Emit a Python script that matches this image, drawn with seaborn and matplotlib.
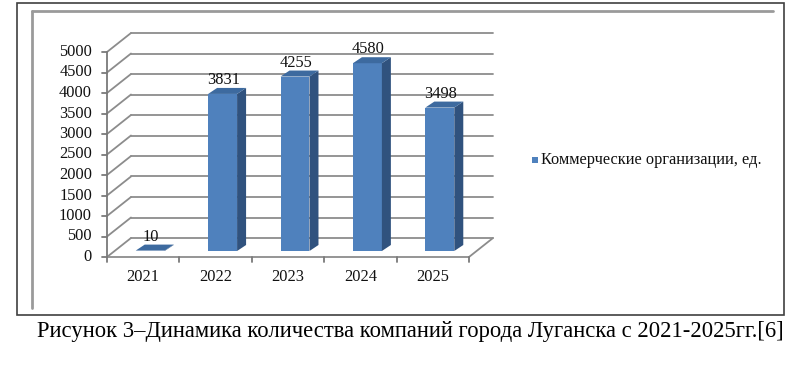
import matplotlib
matplotlib.use("Agg")
import matplotlib.pyplot as plt
from matplotlib.patches import Polygon, Rectangle
from matplotlib.lines import Line2D
import seaborn as sns
import pandas as pd

# ---- data ----
years = ["2021", "2022", "2023", "2024", "2025"]
values = [10, 3831, 4255, 4580, 3498]
series_name = "Коммерческие организации, ед."
yticks = [0, 500, 1000, 1500, 2000, 2500, 3000, 3500, 4000, 4500, 5000]
caption = "Рисунок 3–Динамика количества компаний города Луганска с 2021-2025гг.[6]"

sns.set_theme(style="white")
plt.rcParams["font.family"] = ["Liberation Serif", "DejaVu Serif"]

FRONT = "#4F81BD"
SIDE = "#30527E"
TOP = "#3D6A9F"
GRID = "#8C8C8C"
FS = 11.8

W, H = 800, 386
fig = plt.figure(figsize=(W / 100, H / 100), dpi=100)

# axes = plane of the bar front faces (pixels measured from top-left)
left_px, right_px = 114, 476
zero_px, top_px = 251, 46
ax = fig.add_axes([left_px / W, (H - zero_px) / H, (right_px - left_px) / W, (zero_px - top_px) / H])

df = pd.DataFrame({"year": years, "value": values})
sns.barplot(data=df, x="year", y="value", color=FRONT, width=0.4, saturation=1,
            ax=ax, zorder=3, edgecolor="none")
ax.set_xlim(-0.5, 4.5)
ax.set_ylim(0, 5000)
ax.axis("off")

to_fig = fig.transFigure.inverted()

# offsets in display pixels (y up)
FRONT_OFF = (-7, -6)
BACK_OFF = (17, 13)
DEPTH = (9, 6)


def pt(x, y, off=(0, 0)):
    d = ax.transData.transform((x, y))
    return to_fig.transform((d[0] + off[0], d[1] + off[1]))


def line(p1, p2, color=GRID, lw=1.3, z=1):
    ax.add_line(Line2D([p1[0], p2[0]], [p1[1], p2[1]], transform=fig.transFigure,
                       color=color, lw=lw, zorder=z, clip_on=False))


# outer and inner frames
fig.add_artist(Rectangle((17 / W, (H - 315) / H), (784 - 17) / W, (315 - 3) / H,
                         transform=fig.transFigure, fill=False, ec="#404040", lw=1.2))
fig.add_artist(Line2D([32 / W, 773 / W], [(H - 11) / H] * 2, transform=fig.transFigure,
                      color="#9a9a9a", lw=2.0))
fig.add_artist(Line2D([32 / W] * 2, [(H - 11) / H, (H - 308) / H], transform=fig.transFigure,
                      color="#9a9a9a", lw=2.0))

# walls: back gridlines and left-wall diagonals
x0, x1 = -0.5, 4.5
for v in yticks:
    line(pt(x0, v, BACK_OFF), pt(x1, v, BACK_OFF))
    line(pt(x0, v, FRONT_OFF), pt(x0, v, BACK_OFF))
# floor
line(pt(x0, 0, FRONT_OFF), pt(x1, 0, FRONT_OFF), z=2)
line(pt(x1, 0, FRONT_OFF), pt(x1, 0, BACK_OFF), z=2)

# y axis on the front plane
line(pt(x0, 0, FRONT_OFF), pt(x0, 5000, FRONT_OFF), color="#7a7a7a", lw=1.3, z=2)
for v in yticks:
    a = pt(x0, v, FRONT_OFF)
    b = pt(x0, v, (FRONT_OFF[0] - 5, FRONT_OFF[1]))
    line(a, b, color="#7a7a7a", lw=1.3, z=2)
    c = pt(x0, v, (FRONT_OFF[0] - 15, FRONT_OFF[1]))
    fig.text(c[0], c[1], str(v), ha="right", va="center", fontsize=FS, color="#111111")

# x ticks and labels on the front plane
for i in range(len(years) + 1):
    a = pt(i - 0.5, 0, FRONT_OFF)
    b = pt(i - 0.5, 0, (FRONT_OFF[0], FRONT_OFF[1] - 5))
    line(a, b, color="#7a7a7a", lw=1.3, z=2)
for i, yr in enumerate(years):
    c = pt(i, 0, (FRONT_OFF[0], FRONT_OFF[1] - 20))
    fig.text(c[0], c[1], yr, ha="center", va="center", fontsize=FS, color="#111111")

# 3D sides, tops and value labels of bars
for p, v in zip(ax.patches, values):
    bx, bw, bh = p.get_x(), p.get_width(), p.get_height()
    side = [pt(bx + bw, 0), pt(bx + bw, 0, DEPTH), pt(bx + bw, bh, DEPTH), pt(bx + bw, bh)]
    top = [pt(bx, bh), pt(bx + bw, bh), pt(bx + bw, bh, DEPTH), pt(bx, bh, DEPTH)]
    ax.add_patch(Polygon(side, closed=True, transform=fig.transFigure, fc=SIDE, ec="none",
                         zorder=3, clip_on=False))
    ax.add_patch(Polygon(top, closed=True, transform=fig.transFigure, fc=TOP, ec="none",
                         zorder=4, clip_on=False))
    c = pt(bx + bw / 2, bh, (1, 14))
    fig.text(c[0], c[1], str(v), ha="center", va="center", fontsize=FS, color="#111111")

# legend
fig.add_artist(Rectangle((532 / W, (H - 163) / H), 6 / W, 6 / H, transform=fig.transFigure,
                         fc=FRONT, ec="none"))
fig.text(541 / W, (H - 160) / H, series_name, ha="left", va="center", fontsize=FS,
         color="#111111")

# caption
fig.text(37 / W, (H - 331) / H, caption, ha="left", va="center", fontsize=16.3, color="#000000")

fig.savefig("out.png", dpi=100)
